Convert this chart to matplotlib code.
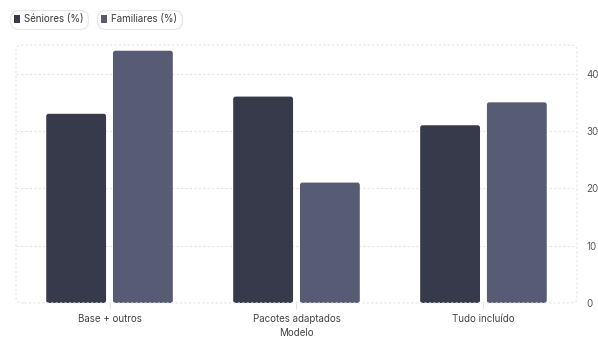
import matplotlib.pyplot as plt
import numpy as np
from matplotlib.patches import FancyBboxPatch, Patch

# data
categorias = ['Base + outros', 'Pacotes adaptados', 'Tudo incluído']
seniores = [33, 36, 31]
familiares = [44, 21, 35]
series_names = ['Séniores (%)', 'Familiares (%)']
colors = ['#373a4a', '#575b73']

plt.rcParams['font.family'] = ['Inter', 'DejaVu Sans']

fig = plt.figure(figsize=(5.98, 3.38), dpi=100)
ax = fig.add_axes([0.0268, 0.1036, 0.938, 0.7633])

x = np.arange(len(categorias))
w = 0.32
gap = 0.037
b1 = ax.bar(x - (w + gap) / 2, seniores, w, color=colors[0])
b2 = ax.bar(x + (w + gap) / 2, familiares, w, color=colors[1])

ax.set_xlim(-0.5, 2.5)
ax.set_ylim(0, 45)

# swap plain bars for slightly rounded ones (y units per x unit ~ 32.7)
for bars, c in [(b1, colors[0]), (b2, colors[1])]:
    for bar in bars:
        bar.set_visible(False)
        p = FancyBboxPatch((bar.get_x(), bar.get_y()), bar.get_width(), bar.get_height(),
                           boxstyle='round,pad=0,rounding_size=0.013',
                           mutation_aspect=32.7, facecolor=c, edgecolor='none')
        ax.add_patch(p)

ax.set_yticks([0, 10, 20, 30, 40])
ax.yaxis.tick_right()
ax.tick_params(axis='y', length=0, pad=7, labelsize=7, labelcolor='#555555')
ax.set_xticks(x)
ax.set_xticklabels(categorias)
ax.tick_params(axis='x', length=4, color='#e2e2e6', pad=4, labelsize=7, labelcolor='#444444')
ax.set_xlabel('Modelo', fontsize=7, color='#444444', labelpad=3)

ax.grid(axis='y', linestyle=(0, (2, 2)), color='#e4e4e8', linewidth=0.8)
ax.set_axisbelow(True)
for s in ax.spines.values():
    s.set_visible(False)

# dashed rounded frame around the plot area
frame = FancyBboxPatch((0, 0), 1, 1, boxstyle='round,pad=0,rounding_size=0.015',
                       transform=ax.transAxes, facecolor='none', edgecolor='#e4e4e8',
                       linestyle=(0, (2, 2)), linewidth=0.8, clip_on=False)
ax.add_patch(frame)

# legend chips
anchors = [(5 / 598, 1 - 5 / 338), (92 / 598, 1 - 5 / 338)]
for name, c, anc in zip(series_names, colors, anchors):
    leg = fig.legend(handles=[Patch(facecolor=c, label=name)], loc='upper left',
                     bbox_to_anchor=anc, fontsize=7, handlelength=0.55, handleheight=0.9,
                     handletextpad=0.5, borderpad=0.45, frameon=True, fancybox=True,
                     edgecolor='#e6e6ea', labelcolor='#444444')
    leg.get_frame().set_linewidth(0.8)
    leg.get_frame().set_boxstyle('round,pad=0,rounding_size=0.9')
    fig.add_artist(leg)

fig.savefig('out.png', dpi=100, facecolor='white')
